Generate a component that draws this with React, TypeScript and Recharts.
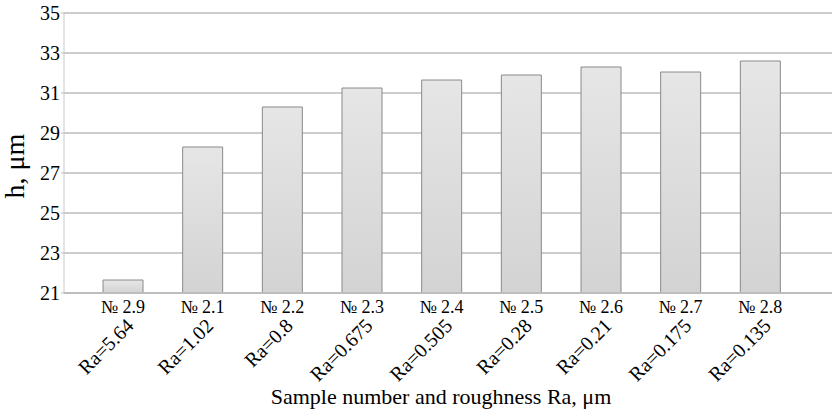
import React from 'react'
import { BarChart, Bar, XAxis, YAxis, CartesianGrid, Label } from 'recharts'

const samples = ['№ 2.9', '№ 2.1', '№ 2.2', '№ 2.3', '№ 2.4', '№ 2.5', '№ 2.6', '№ 2.7', '№ 2.8']
const roughness = ['Ra=5.64', 'Ra=1.02', 'Ra=0.8', 'Ra=0.675', 'Ra=0.505', 'Ra=0.28', 'Ra=0.21', 'Ra=0.175', 'Ra=0.135']
const heights = [21.65, 28.3, 30.3, 31.25, 31.65, 31.9, 32.3, 32.05, 32.6]
const yTicks = [21, 23, 25, 27, 29, 31, 33, 35]

const data = samples.map((s, i) => ({ sample: s, ra: roughness[i], h: heights[i] }))

const FONT = 'Liberation Serif, Times New Roman, serif'

// two-line category label: sample number flat, roughness turned 45°
// eslint-disable-next-line @typescript-eslint/no-explicit-any
function SampleTick({ x, y, payload }: any) {
  const ra = roughness[samples.indexOf(payload.value)]
  return (
    <g fontFamily={FONT} style={{ fontFamily: FONT }}>
      <text x={x} y={y + 20} textAnchor="middle" fontFamily={FONT} fontSize={18} fill="#000">
        {payload.value}
      </text>
      <text
        transform={`translate(${x + 12},${y + 34}) rotate(-45)`}
        textAnchor="end"
        fontFamily={FONT}
        fontSize={20}
        fill="#000"
      >
        {ra}
      </text>
    </g>
  )
}

export default function App() {
  return (
    <div style={{ position: 'fixed', left: 0, top: 0, background: '#fff', fontFamily: FONT }}>
      <BarChart
        width={837}
        height={411}
        data={data}
        margin={{ top: 13, right: 5, left: 0, bottom: 0 }}
      >
        <defs>
          <linearGradient id="barFill" x1="0" y1="0" x2="0" y2="1">
            <stop offset="0%" stopColor="#e6e6e6" />
            <stop offset="100%" stopColor="#d3d3d3" />
          </linearGradient>
        </defs>
        <CartesianGrid vertical={false} stroke="#9a9a9a" />
        <XAxis
          dataKey="sample"
          height={118}
          padding={{ left: 19, right: 32 }}
          tick={<SampleTick />}
          tickLine={false}
          tickSize={0}
          tickMargin={0}
          axisLine={{ stroke: '#bdbdbd', strokeWidth: 2 }}
          interval={0}
        >
          <Label
            content={() => (
              <text x={441} y={404} textAnchor="middle" fontFamily={FONT} fontSize={22} fill="#000">
                Sample number and roughness Ra, μm
              </text>
            )}
          />
        </XAxis>
        <YAxis
          domain={[21, 35]}
          ticks={yTicks}
          width={64}
          tick={{ fontSize: 20, fill: '#000', fontFamily: FONT }}
          tickSize={3}
          tickMargin={1}
          tickLine={{ stroke: '#bdbdbd' }}
          axisLine={{ stroke: '#c8c8c8' }}
          allowDataOverflow
        >
          <Label
            content={() => (
              <text
                transform="translate(24,166) rotate(-90)"
                textAnchor="middle"
                fontFamily={FONT}
                fontSize={28}
                fill="#000"
              >
                h, μm
              </text>
            )}
          />
        </YAxis>
        <Bar
          dataKey="h"
          barSize={40}
          fill="url(#barFill)"
          stroke="#8a8a8a"
          strokeWidth={1}
          isAnimationActive={false}
        />
      </BarChart>
    </div>
  )
}
